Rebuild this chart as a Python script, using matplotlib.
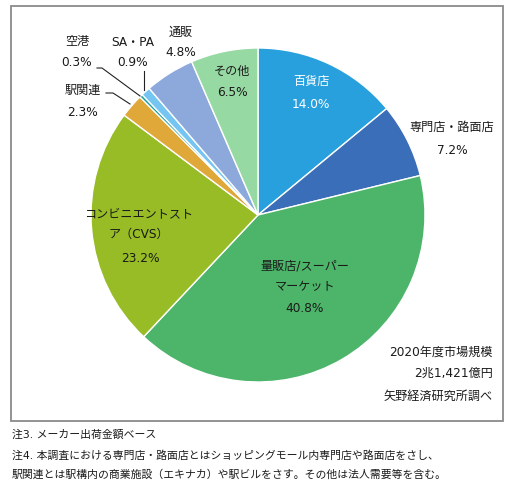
import matplotlib
matplotlib.use('Agg')
import matplotlib.pyplot as plt
from matplotlib.patches import Rectangle

# latin/digits in a wide sans, Japanese falls through to Noto CJK
plt.rcParams['font.family'] = ['DejaVu Sans', 'Noto Sans CJK JP']

# shares, clockwise from 12 o'clock
labels = ['百貨店', '専門店・路面店', '量販店/スーパー\nマーケット', 'コンビニエントスト\nア（CVS）',
          '駅関連', '空港', 'SA・PA', '通販', 'その他']
shares = [14.0, 7.2, 40.8, 23.2, 2.3, 0.3, 0.9, 4.8, 6.5]
colors = ['#29A0DE', '#3A6EB8', '#4DB56A', '#97BC26', '#DFA839',
          '#1AA09A', '#74C5F2', '#8DA9DC', '#97D9A3']

W, H = 518, 495
CX, CY, R = 258, 215, 167

fig = plt.figure(figsize=(W / 100, H / 100), dpi=100)
fig.patch.set_facecolor('white')

# frame around the chart
fig.patches.append(Rectangle((11 / W, 1 - 421 / H), 492 / W, 415 / H, transform=fig.transFigure,
                             fill=False, edgecolor='#8a8a8a', linewidth=1.3))

ax = fig.add_axes([(CX - R) / W, (H - CY - R) / H, 2 * R / W, 2 * R / H])
ax.pie(shares, colors=colors, startangle=90, counterclock=False, radius=1,
       wedgeprops=dict(edgecolor='white', linewidth=1))
ax.set_xlim(-1, 1)
ax.set_ylim(-1, 1)
ax.set_aspect('equal')
ax.axis('off')


def px(x, y):
    return (x - CX) / R, (CY - y) / R


fs = 8.7
# label text position (pixels) for name and value
spots = {
    0: ((311, 81), (311, 104), 'white'),
    1: ((452, 127), (452, 150), '#1a1a1a'),
    2: ((305, 276), (305, 309), '#1a1a1a'),
    3: ((139, 224), (140, 258), '#1a1a1a'),
    4: ((83, 90), (83, 112), '#1a1a1a'),
    5: ((77, 42), (77, 63), '#1a1a1a'),
    6: ((133, 42), (133, 63), '#1a1a1a'),
    7: ((181, 32), (181, 53), '#1a1a1a'),
    8: ((232, 71), (232, 93), '#1a1a1a'),
}
for i, (p1, p2, c) in spots.items():
    ax.text(*px(*p1), labels[i], ha='center', va='center', fontsize=fs, color=c,
            linespacing=1.75, clip_on=False)
    ax.text(*px(*p2), f'{shares[i]:.1f}%', ha='center', va='center', fontsize=fs, color=c,
            clip_on=False)

# leader lines
leaders = [
    [(97, 68), (102, 68), (140, 96)],
    [(144, 71), (144, 90)],
    [(106, 93), (113, 93), (130, 104)],
]
for pts in leaders:
    xs, ys = zip(*[px(x, y) for x, y in pts])
    ax.plot(xs, ys, color='#222222', linewidth=0.8, clip_on=False)

fig.text(493 / W, 1 - 352 / H, '2020年度市場規模', ha='right', va='center', fontsize=fs, color='#1a1a1a')
fig.text(493 / W, 1 - 373 / H, '2兆1,421億円', ha='right', va='center', fontsize=fs, color='#1a1a1a')
fig.text(493 / W, 1 - 396 / H, '矢野経済研究所調べ', ha='right', va='center', fontsize=fs, color='#1a1a1a')

notes = ['注3. メーカー出荷金額ベース',
         '注4. 本調査における専門店・路面店とはショッピングモール内専門店や路面店をさし、',
         '駅関連とは駅構内の商業施設（エキナカ）や駅ビルをさす。その他は法人需要等を含む。']
for k, t in enumerate(notes):
    fig.text(12 / W, 1 - (435 + 20 * k) / H, t, ha='left', va='center', fontsize=7.8, color='#1a1a1a')

fig.savefig('out.png', dpi=100)
